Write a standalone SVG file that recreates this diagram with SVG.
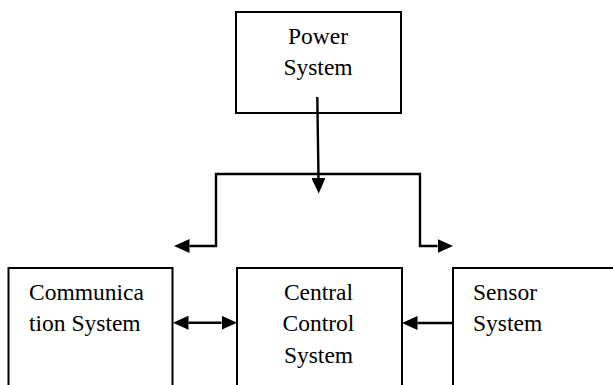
<svg xmlns="http://www.w3.org/2000/svg" width="613" height="385" viewBox="0 0 613 385">
<style>
.box{fill:#fff;stroke:#000;stroke-width:2}
text{font-family:'Liberation Serif','Times New Roman',Tinos,'DejaVu Serif',serif;font-size:23.5px;fill:#000}
.c{text-anchor:middle}
.ln{fill:none;stroke:#000;stroke-width:2.4}
</style>
<defs>
<marker id="ah" markerUnits="userSpaceOnUse" markerWidth="16" markerHeight="14" refX="0" refY="7" orient="auto-start-reverse" viewBox="0 0 16 14">
<path d="M0,0 L15.5,7 L0,14 z" fill="#000"/>
</marker>
</defs>
<rect width="613" height="385" fill="#fff"/>
<g id="power">
<rect class="box" x="236" y="12" width="165" height="101"/>
<text class="c" x="318" y="44" font-family="Liberation Serif, serif">Power</text>
<text class="c" x="318" y="75" font-family="Liberation Serif, serif">System</text>
</g>
<g id="comm">
<rect class="box" x="8.5" y="268" width="164" height="130"/>
<text x="29" y="300" font-family="Liberation Serif, serif">Communica</text>
<text x="29" y="331" font-family="Liberation Serif, serif">tion System</text>
</g>
<g id="central">
<rect class="box" x="237" y="268" width="165" height="130"/>
<text class="c" x="318.5" y="300" font-family="Liberation Serif, serif">Central</text>
<text class="c" x="318.5" y="331" font-family="Liberation Serif, serif">Control</text>
<text class="c" x="318.5" y="363" font-family="Liberation Serif, serif">System</text>
</g>
<g id="sensor">
<rect class="box" x="453" y="268" width="180" height="130"/>
<text x="473" y="300" font-family="Liberation Serif, serif">Sensor</text>
<text x="473" y="331" font-family="Liberation Serif, serif">System</text>
</g>
<g id="connectors">
<path class="ln" d="M317.3,97 L318.5,178" marker-end="url(#ah)"/>
<path class="ln" d="M189.5,246 H216 V174 H420 V246 H437.5" marker-start="url(#ah)" marker-end="url(#ah)"/>
<path class="ln" d="M188.5,322.7 H221.5" marker-start="url(#ah)" marker-end="url(#ah)"/>
<path class="ln" d="M453,323 H417.5" marker-end="url(#ah)"/>
</g>
</svg>
